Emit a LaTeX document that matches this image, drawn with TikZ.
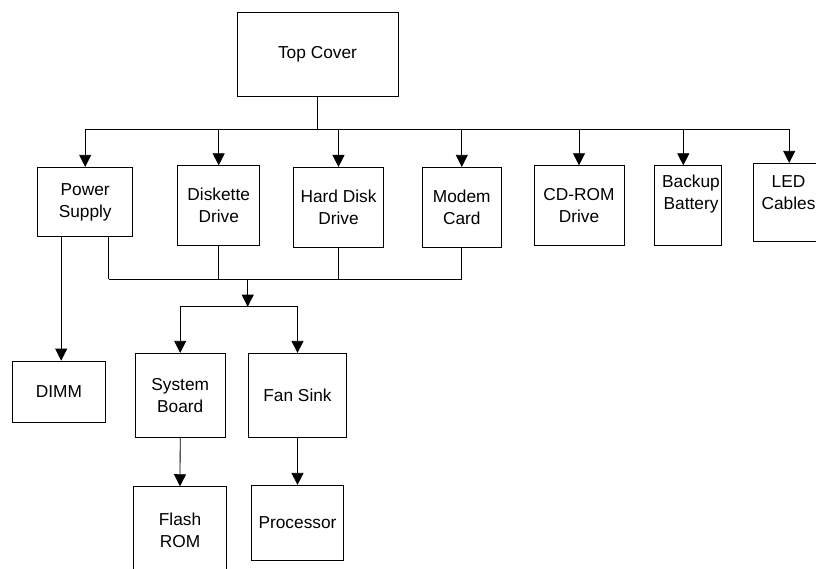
\documentclass[tikz,border=0pt]{standalone}
\usepackage{fontspec}
\setmainfont{Liberation Sans}
\usetikzlibrary{arrows.meta,calc}
\begin{document}
\begin{tikzpicture}[x=1pt,y=-1pt,
  box/.style={draw=black,line width=0.8pt,rectangle,inner sep=0pt,align=center,
    font=\fontsize{17.3}{22}\selectfont},
  lbl/.style={inner sep=0pt,align=center,font=\fontsize{17.3}{22}\selectfont},
  conn/.style={draw=black,line width=0.8pt},
  arr/.style={conn,-{Triangle[width=12pt,length=12pt]}}]
\useasboundingbox (0,0) rectangle (816,568);
\clip (0,0) rectangle (816,568);
% boxes
\node[box,minimum width=161pt,minimum height=84pt] (top) at (317.5,54) {Top Cover};
\node[box,minimum width=95pt,minimum height=69.4pt] (ps) at (85.2,202) {Power\\Supply};
\node[box,minimum width=82pt,minimum height=80pt] (dd) at (218.7,205.7) {Diskette\\Drive};
\node[box,minimum width=89.6pt,minimum height=79.7pt] (hdd) at (338.5,207.2) {Hard Disk\\Drive};
\node[box,minimum width=79pt,minimum height=80pt] (mc) at (461.8,207.3) {Modem\\Card};
\node[box,minimum width=90pt,minimum height=79.6pt] (cd) at (579,205.5) {CD-ROM\\Drive};
\node[box,minimum width=67pt,minimum height=79.6pt] (bb) at (687.5,205.5) {};
\node[lbl] (bbt) at (691,194.5) {Backup\\Battery};
\node[box,minimum width=71.7pt,minimum height=78.4pt] (led) at (789.2,202.5) {};
\node[lbl] (ledt) at (788.5,193) {LED\\Cables};
\node[box,minimum width=92.6pt,minimum height=61.3pt] (dimm) at (59,391.7) {DIMM};
\node[box,minimum width=89.7pt,minimum height=84pt] (sb) at (180.2,395.3) {System\\Board};
\node[box,minimum width=98.4pt,minimum height=84pt] (fs) at (297.5,395.3) {Fan Sink};
\node[box,minimum width=93.4pt,minimum height=88.3pt] (fr) at (180,530.8) {Flash\\ROM};
\node[box,minimum width=91.6pt,minimum height=75pt] (pr) at (297.5,522.8) {Processor};
% bus coordinates
\coordinate (bus1) at (317.5,129);
\coordinate (bus2) at (247.7,279.3);
\coordinate (bus3) at (247.7,306.7);
\coordinate (bbin) at ([xshift=-4.2pt]bb.north);
% top distribution
\draw[conn] (top.south) -- (bus1);
\draw[conn] (bus1 -| ps.north) -- (bus1 -| led.north);
\foreach \n in {ps,dd,hdd,mc,cd,led}{
  \draw[arr] (bus1 -| \n.north) -- (\n.north);
}
\draw[arr] (bus1 -| bbin) -- (bbin);
% lower collection bus
\draw[conn] ([xshift=23.5pt]ps.south) -- ([xshift=23.5pt]ps.south |- bus2);
\draw[conn] ([xshift=23.5pt]ps.south |- bus2) -- (bus2 -| mc.south);
\foreach \n in {dd,hdd,mc}{
  \draw[conn] (\n.south) -- (bus2 -| \n.south);
}
\draw[arr] (bus2) -- (bus3);
\draw[conn] (bus3 -| sb.north) -- (bus3 -| fs.north);
\draw[arr] (bus3 -| sb.north) -- (sb.north);
\draw[arr] (bus3 -| fs.north) -- (fs.north);
% power supply to DIMM
\draw[arr] ([xshift=-24pt]ps.south) -- ([xshift=-24pt]ps.south |- dimm.north);
% lower chains
\draw[arr] (sb.south) -- (fr.north);
\draw[arr] (fs.south) -- (pr.north);
\end{tikzpicture}
\end{document}
